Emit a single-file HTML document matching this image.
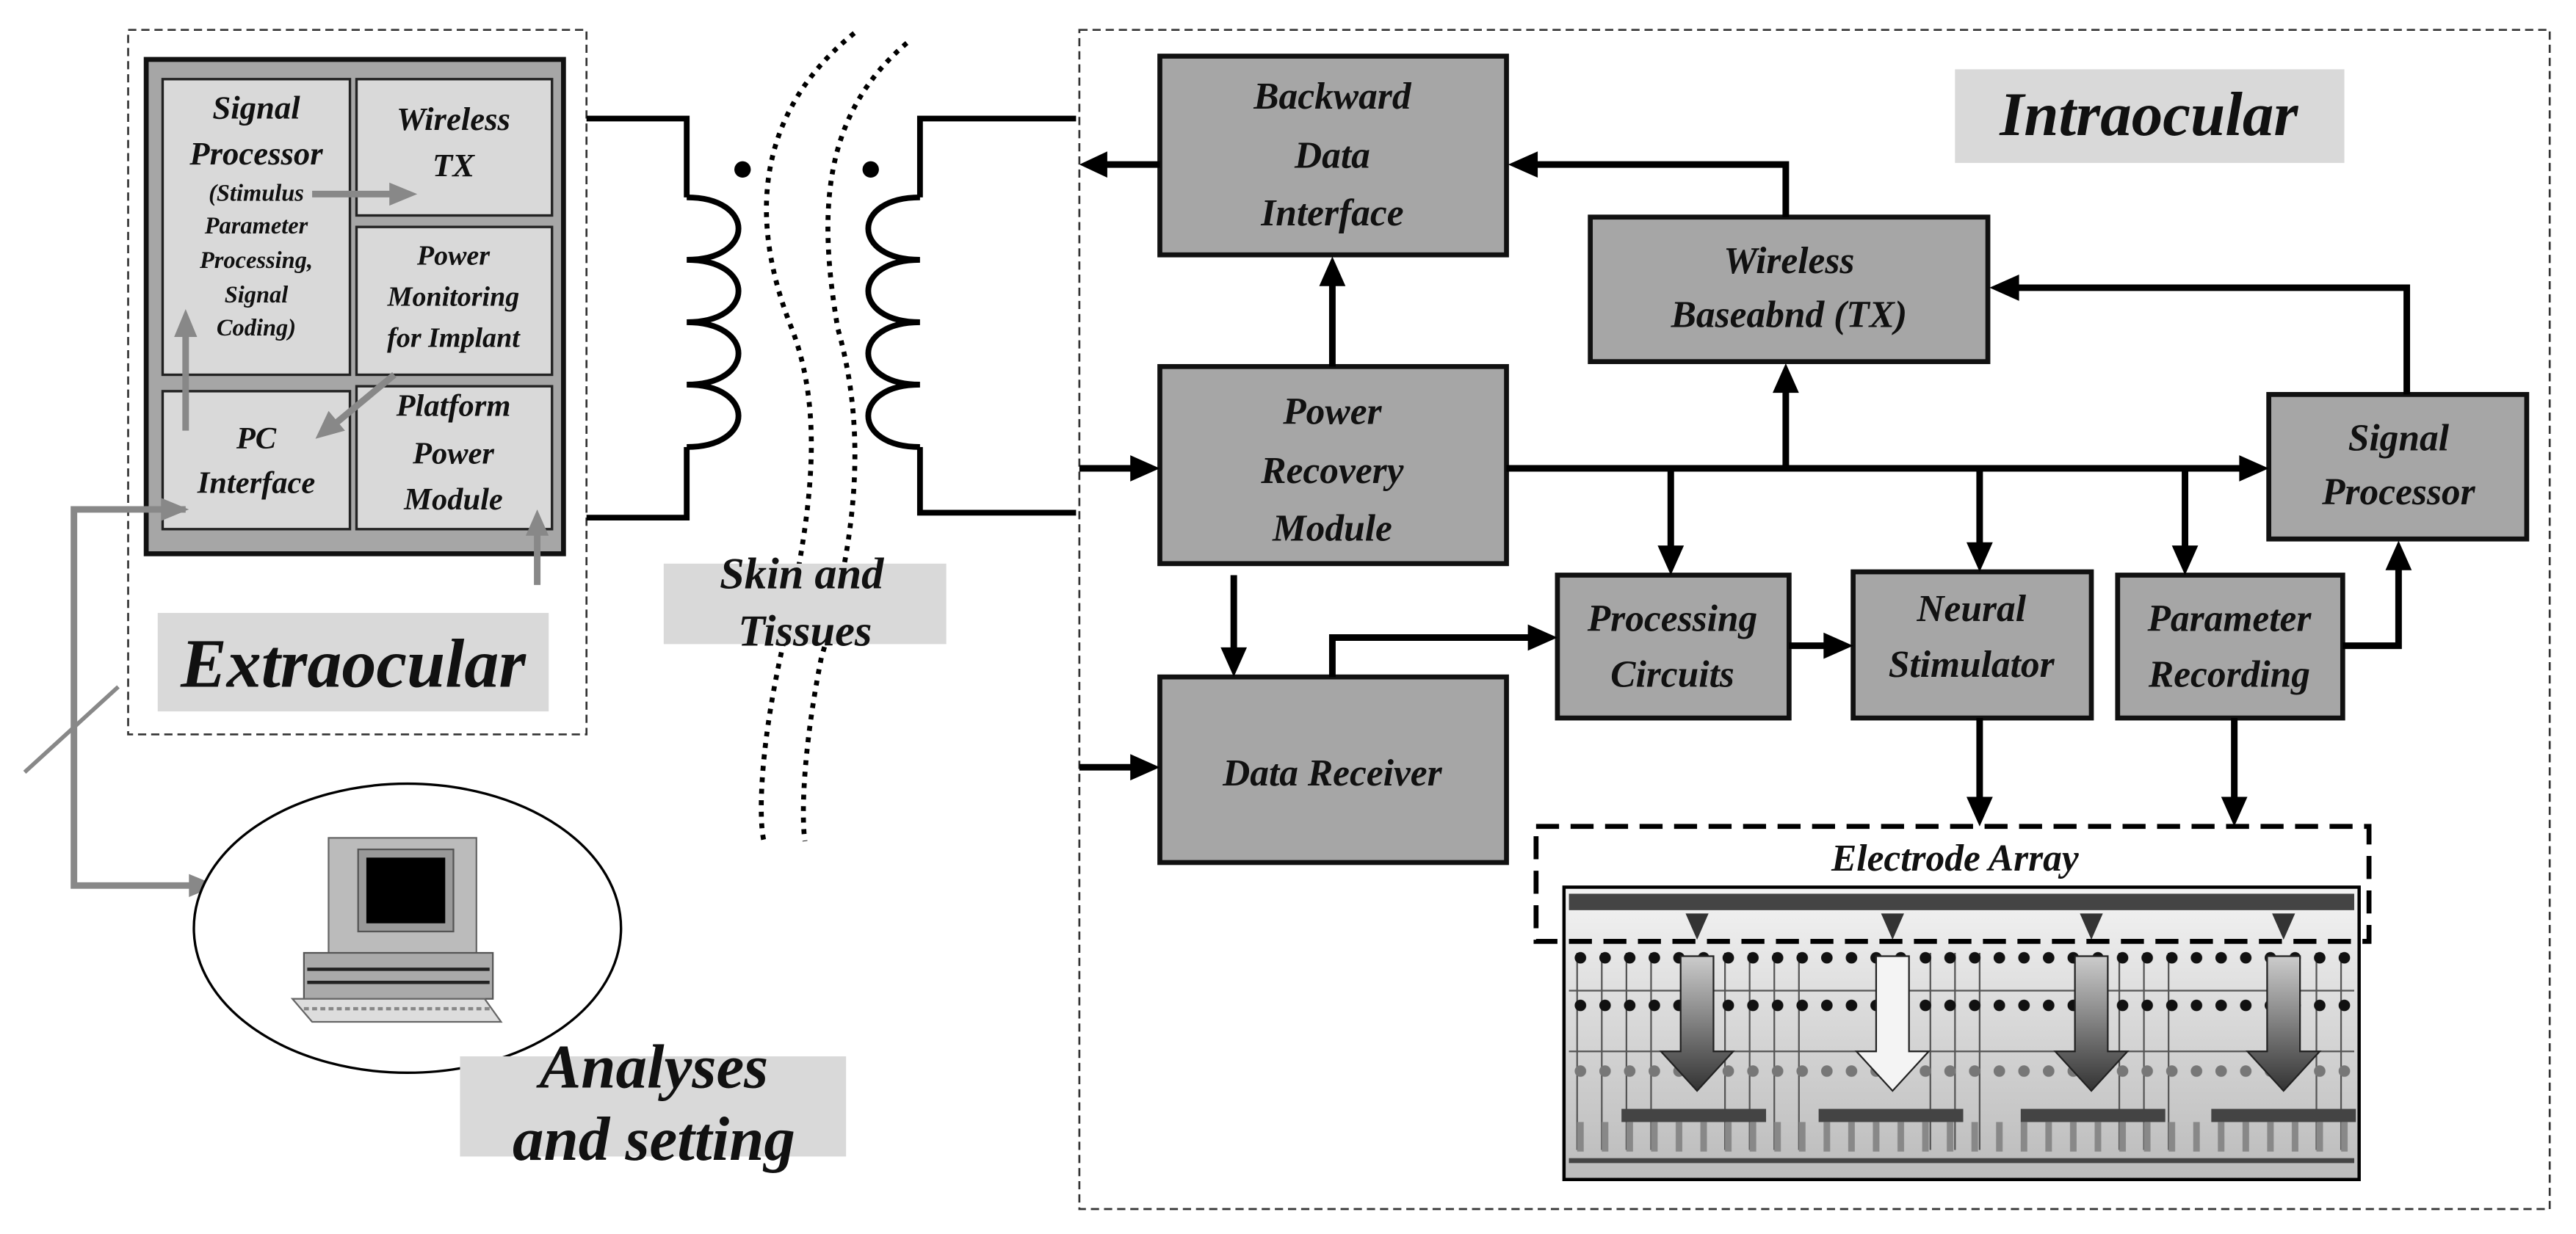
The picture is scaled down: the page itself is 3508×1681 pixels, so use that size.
<!DOCTYPE html>
<html><head><meta charset="utf-8"><style>
html,body{margin:0;padding:0;background:#fff;}
svg{display:block;}
text{font-family:"Liberation Serif",serif;font-weight:bold;font-style:italic;fill:#111;text-anchor:middle;}
</style></head><body>
<svg width="3508" height="1681" viewBox="0 0 1568 751" xmlns="http://www.w3.org/2000/svg">
<defs>
<linearGradient id="eg" x1="0" y1="0" x2="0" y2="1"><stop offset="0" stop-color="#f4f4f4"/><stop offset="0.6" stop-color="#d0d0d0"/><stop offset="1" stop-color="#bbb"/></linearGradient>
<linearGradient id="ag" x1="0" y1="0" x2="0" y2="1"><stop offset="0" stop-color="#ccc"/><stop offset="1" stop-color="#333"/></linearGradient>
<pattern id="dots1" x="955" y="0" width="15" height="751" patternUnits="userSpaceOnUse"><circle cx="7" cy="583" r="3.5" fill="#111"/><circle cx="7" cy="612" r="3.5" fill="#111"/><circle cx="7" cy="652" r="3.5" fill="#777"/><rect x="5" y="683" width="4" height="18" fill="#888"/></pattern>
</defs>

<!-- Extraocular -->
<rect x="78" y="18" width="279" height="429" fill="none" stroke="#333" stroke-width="1.2" stroke-dasharray="5,3"/>
<rect x="89" y="36" width="254" height="301" fill="#a6a6a6" stroke="#111" stroke-width="3"/>
<g fill="#d9d9d9" stroke="#222" stroke-width="1.5">
<rect x="99" y="48" width="114" height="180"/>
<rect x="217" y="48" width="119" height="83"/>
<rect x="217" y="138" width="119" height="90"/>
<rect x="99" y="238" width="114" height="84"/>
<rect x="217" y="235" width="119" height="87"/>
</g>
<g font-size="20"><text x="156" y="72">Signal</text><text x="156" y="100">Processor</text></g>
<g font-size="14.5"><text x="156" y="122">(Stimulus</text><text x="156" y="142">Parameter</text><text x="156" y="163">Processing,</text><text x="156" y="184">Signal</text><text x="156" y="204">Coding)</text></g>
<g font-size="20"><text x="276" y="79">Wireless</text><text x="276" y="107">TX</text></g>
<g font-size="17"><text x="276" y="161">Power</text><text x="276" y="186">Monitoring</text><text x="276" y="211">for Implant</text></g>
<g font-size="19"><text x="156" y="273">PC</text><text x="156" y="300">Interface</text></g>
<g font-size="19"><text x="276" y="253">Platform</text><text x="276" y="282">Power</text><text x="276" y="310">Module</text></g>
<g stroke="#888" stroke-width="4" fill="#888">
<line x1="190" y1="118" x2="240" y2="118"/><path d="M254,118 L237,111 L237,125Z" stroke="none"/>
<line x1="113" y1="262" x2="113" y2="200"/><path d="M113,188 L106,205 L120,205Z" stroke="none"/>
<line x1="240" y1="228" x2="205" y2="257"/><path d="M192,267 L200,250 L210,262Z" stroke="none"/>
<line x1="327" y1="356" x2="327" y2="322"/><path d="M327,310 L320,326 L334,326Z" stroke="none"/>
<polyline points="113,310 45,310 45,539 118,539" fill="none"/><path d="M132,539 L115,532 L115,546Z" stroke="none"/>
<path d="M115,310 L98,303 L98,317Z" stroke="none"/>
</g>
<line x1="15" y1="470" x2="72" y2="418" stroke="#888" stroke-width="2.5"/>
<rect x="96" y="373" width="238" height="60" fill="#d9d9d9"/>
<text x="215" y="418" font-size="42">Extraocular</text>

<!-- transformer -->
<g stroke="#000" stroke-width="3.5" fill="none">
<polyline points="357,72 418,72 418,120"/>
<path d="M418,120 C460,120 460,158 418,158 C460,158 460,196 418,196 C460,196 460,234 418,234 C460,234 460,272 418,272"/>
<polyline points="418,272 418,315 357,315"/>
<polyline points="655,72 560,72 560,120"/>
<path d="M560,120 C518,120 518,158 560,158 C518,158 518,196 560,196 C518,196 518,234 560,234 C518,234 518,272 560,272"/>
<polyline points="560,272 560,312 655,312"/>
</g>
<circle cx="452" cy="103" r="5"/><circle cx="530" cy="103" r="5"/>
<g stroke="#000" stroke-width="3" fill="none" stroke-dasharray="3,4">
<path d="M520,20 C470,60 450,120 482,200 C505,260 490,330 475,400 C462,460 462,500 465,512"/>
<path d="M552,26 C500,70 498,130 510,200 C530,270 518,340 500,400 C488,460 488,500 490,512"/>
</g>
<rect x="404" y="343" width="172" height="49" fill="#d9d9d9"/>
<text x="488" y="358" font-size="27">Skin and</text>
<text x="490" y="393" font-size="27">Tissues</text>

<!-- Analyses -->
<ellipse cx="248" cy="565" rx="130" ry="88" fill="#fff" stroke="#000" stroke-width="1.5"/>
<g>
<rect x="200" y="510" width="90" height="80" fill="#bbb" stroke="#666"/>
<rect x="218" y="517" width="58" height="50" fill="#999" stroke="#555"/>
<rect x="223" y="522" width="48" height="40" fill="#000"/>
<rect x="185" y="580" width="115" height="28" fill="#aaa" stroke="#555"/>
<line x1="187" y1="590" x2="298" y2="590" stroke="#222" stroke-width="2"/>
<line x1="187" y1="598" x2="298" y2="598" stroke="#222" stroke-width="2"/>
<path d="M178,608 L295,608 L305,622 L190,622Z" fill="#ddd" stroke="#666"/>
<line x1="185" y1="614" x2="298" y2="614" stroke="#888" stroke-width="2" stroke-dasharray="3,2"/>
</g>
<rect x="280" y="643" width="235" height="61" fill="#d9d9d9"/>
<text x="398" y="662" font-size="38">Analyses</text>
<text x="398" y="706" font-size="38">and setting</text>

<!-- Intraocular -->
<rect x="657" y="18" width="895" height="718" fill="none" stroke="#333" stroke-width="1.2" stroke-dasharray="5,3"/>
<rect x="1190" y="42" width="237" height="57" fill="#d9d9d9"/>
<text x="1308" y="82" font-size="38">Intraocular</text>

<g fill="#a6a6a6" stroke="#111" stroke-width="3">
<rect x="706" y="34" width="211" height="121"/>
<rect x="968" y="132" width="242" height="88"/>
<rect x="706" y="223" width="211" height="120"/>
<rect x="1381" y="240" width="157" height="88"/>
<rect x="948" y="350" width="141" height="87"/>
<rect x="1128" y="348" width="145" height="89"/>
<rect x="1289" y="350" width="137" height="87"/>
<rect x="706" y="412" width="211" height="113"/>
</g>
<g font-size="23">
<text x="811" y="66">Backward</text><text x="811" y="102">Data</text><text x="811" y="137">Interface</text>
<text x="1089" y="166">Wireless</text><text x="1089" y="199">Baseabnd (TX)</text>
<text x="811" y="258">Power</text><text x="811" y="294">Recovery</text><text x="811" y="329">Module</text>
<text x="1460" y="274">Signal</text><text x="1460" y="307">Processor</text>
<text x="1018" y="384">Processing</text><text x="1018" y="418">Circuits</text>
<text x="1200" y="378">Neural</text><text x="1200" y="412">Stimulator</text>
<text x="1357" y="384">Parameter</text><text x="1357" y="418">Recording</text>
<text x="811" y="478">Data Receiver</text>
</g>

<g stroke="#000" stroke-width="4" fill="none">
<line x1="706" y1="100" x2="670" y2="100"/>
<polyline points="1087,132 1087,100 933,100"/>
<polyline points="1465,240 1465,175 1226,175"/>
<line x1="811" y1="223" x2="811" y2="172"/>
<line x1="917" y1="285" x2="1365" y2="285"/>
<line x1="1087" y1="285" x2="1087" y2="236"/>
<line x1="1017" y1="285" x2="1017" y2="334"/>
<line x1="1205" y1="285" x2="1205" y2="332"/>
<line x1="1330" y1="285" x2="1330" y2="334"/>
<line x1="751" y1="350" x2="751" y2="396"/>
<polyline points="811,412 811,388 932,388"/>
<line x1="1089" y1="393" x2="1112" y2="393"/>
<polyline points="1426,393 1460,393 1460,344"/>
<line x1="1205" y1="437" x2="1205" y2="487"/>
<line x1="1360" y1="437" x2="1360" y2="487"/>
<line x1="657" y1="285" x2="690" y2="285"/>
<line x1="657" y1="467" x2="690" y2="467"/>
</g>
<g fill="#000">
<path d="M657,100 L674,92 L674,108Z"/>
<path d="M918,100 L936,92 L936,108Z"/>
<path d="M1211,175 L1229,167 L1229,183Z"/>
<path d="M811,156 L803,174 L819,174Z"/>
<path d="M1381,285 L1363,277 L1363,293Z"/>
<path d="M1087,221 L1079,239 L1095,239Z"/>
<path d="M1017,350 L1009,332 L1025,332Z"/>
<path d="M1205,348 L1197,330 L1213,330Z"/>
<path d="M1330,350 L1322,332 L1338,332Z"/>
<path d="M751,412 L743,394 L759,394Z"/>
<path d="M948,388 L930,380 L930,396Z"/>
<path d="M1128,393 L1110,385 L1110,401Z"/>
<path d="M1460,329 L1452,347 L1468,347Z"/>
<path d="M1205,503 L1197,485 L1213,485Z"/>
<path d="M1360,503 L1352,485 L1368,485Z"/>
<path d="M706,285 L688,277 L688,293Z"/>
<path d="M706,467 L688,459 L688,475Z"/>
</g>

<!-- Electrode array -->
<rect x="952" y="540" width="484" height="178" fill="url(#eg)" stroke="#000" stroke-width="2"/>
<rect x="955" y="544" width="478" height="10" fill="#444"/>
<g stroke="#555" stroke-width="1">
<line x1="960" y1="580" x2="960" y2="700"/><line x1="975" y1="580" x2="975" y2="700"/><line x1="990" y1="580" x2="990" y2="700"/><line x1="1005" y1="580" x2="1005" y2="700"/>
<line x1="1050" y1="580" x2="1050" y2="700"/><line x1="1065" y1="580" x2="1065" y2="700"/><line x1="1080" y1="580" x2="1080" y2="700"/><line x1="1095" y1="580" x2="1095" y2="700"/>
<line x1="1175" y1="580" x2="1175" y2="700"/><line x1="1190" y1="580" x2="1190" y2="700"/><line x1="1205" y1="580" x2="1205" y2="700"/>
<line x1="1290" y1="580" x2="1290" y2="700"/><line x1="1305" y1="580" x2="1305" y2="700"/><line x1="1320" y1="580" x2="1320" y2="700"/><line x1="1410" y1="580" x2="1410" y2="700"/><line x1="1425" y1="580" x2="1425" y2="700"/>
<line x1="955" y1="603" x2="1433" y2="603"/><line x1="955" y1="640" x2="1433" y2="640"/>
</g>
<rect x="955" y="575" width="478" height="130" fill="url(#dots1)"/>
<g fill="#444">
<rect x="987" y="675" width="88" height="8"/><rect x="1107" y="675" width="88" height="8"/><rect x="1230" y="675" width="88" height="8"/><rect x="1346" y="675" width="88" height="8"/>
<rect x="955" y="705" width="478" height="3"/>
</g>
<g stroke="#222" fill="url(#ag)">
<path d="M1023,582 L1043,582 L1043,640 L1055,640 L1033,664 L1011,640 L1023,640Z"/>
<path d="M1142,582 L1162,582 L1162,640 L1174,640 L1152,664 L1130,640 L1142,640Z" fill="#f4f4f4"/>
<path d="M1263,582 L1283,582 L1283,640 L1295,640 L1273,664 L1251,640 L1263,640Z"/>
<path d="M1380,582 L1400,582 L1400,640 L1412,640 L1390,664 L1368,640 L1380,640Z"/>
</g>
<g fill="#333"><path d="M1026,556 L1040,556 L1033,572Z"/><path d="M1145,556 L1159,556 L1152,572Z"/><path d="M1266,556 L1280,556 L1273,572Z"/><path d="M1383,556 L1397,556 L1390,572Z"/></g>
<rect x="935" y="503" width="507" height="70" fill="none" stroke="#000" stroke-width="3" stroke-dasharray="14,7"/>
<rect x="1060" y="509" width="200" height="27" fill="#fff"/>
<text x="1190" y="530" font-size="23" font-weight="normal">Electrode Array</text>
</svg>
</body></html>
